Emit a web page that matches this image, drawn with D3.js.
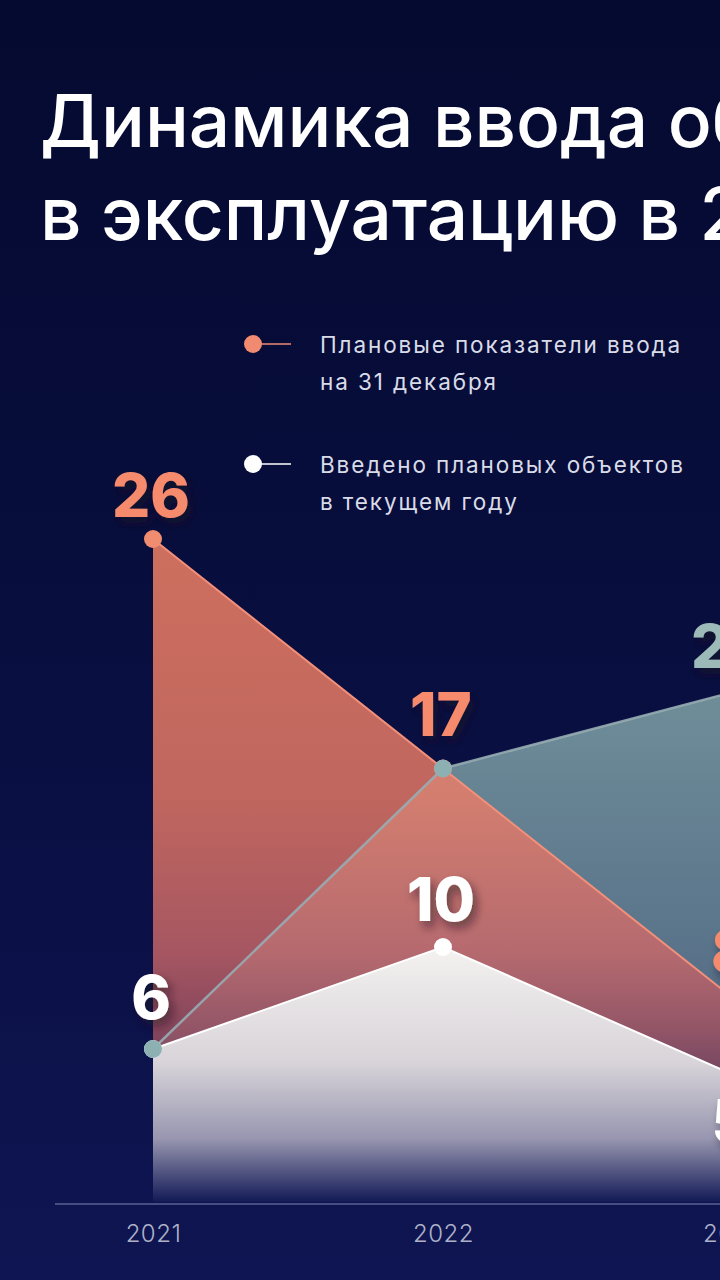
<!DOCTYPE html>
<html>
  <head>
    <title>Динамика ввода объектов</title>
    <meta charset="utf-8">
    <script src='https://d3js.org/d3.v7.min.js'></script>
    <style>
      body { margin: 0; background: #070c38; overflow: hidden; }
      svg { display: block; }
    </style>
  </head>
  <body>
    <script>

    // данные
    var years = [2021, 2022, 2023];
    var plan = [26, 17, 8];        // плановые показатели ввода на 31 декабря
    var total = [6, 17, 20];       // третий ряд (серо-голубой)
    var done = [6, 10, 5];         // введено плановых объектов в текущем году

    var titleLines = ['Динамика ввода объектов', 'в эксплуатацию в 2021–2023 гг.'];
    var legendLabels = [
      ['Плановые показатели ввода', 'на 31 декабря'],
      ['Введено плановых объектов', 'в текущем году']
    ];

    var width = 720;
    var height = 1280;

    var svg = d3.select('body')
      .append('svg')
      .attr('width', width)
      .attr('height', height);

    var defs = svg.append('defs');

    function vGrad(id, y1, y2, stops) {
      var g = defs.append('linearGradient')
        .attr('id', id)
        .attr('gradientUnits', 'userSpaceOnUse')
        .attr('x1', 0).attr('x2', 0)
        .attr('y1', y1).attr('y2', y2);
      stops.forEach(function(s) {
        g.append('stop').attr('offset', s[0]).attr('stop-color', s[1]);
      });
    }

    vGrad('bg', 0, height, [[0, '#050a30'], [0.5, '#080e3e'], [1, '#0f1552']]);
    vGrad('g-total', 690, 1202, [[0, '#6f8e99'], [0.55, '#587189'], [1, '#17205a']]);
    vGrad('g-plan', 539, 1202, [[0, '#ff8867'], [0.39, '#ee7c66'], [0.62, '#cd6868'], [0.74, '#a55361'], [1, '#1a1a50']]);
    vGrad('g-done', 948, 1202, [[0, '#f4f1f0'], [0.45, '#d8d4d9'], [0.75, '#9896b0'], [1, '#121a56']]);

    var shadow = defs.append('filter').attr('id', 'shadow')
      .attr('x', '-30%').attr('y', '-30%').attr('width', '160%').attr('height', '160%');
    shadow.append('feDropShadow')
      .attr('dx', 4).attr('dy', 6).attr('stdDeviation', 5)
      .attr('flood-color', '#1a0a20').attr('flood-opacity', 0.55);

    svg.append('rect')
      .attr('width', width).attr('height', height)
      .attr('fill', 'url(#bg)');

    // заголовок
    svg.append('text')
      .style('font-family', 'Inter, sans-serif')
      .style('font-weight', 500)
      .style('font-size', '73px')
      .style('fill', '#ffffff')
      .selectAll('tspan')
      .data(titleLines)
      .enter().append('tspan')
      .attr('x', 40)
      .attr('y', function(d, i) { return 147 + i * 93; })
      .text(function(d) { return d; });

    // легенда
    var legendColors = ['#f08a70', '#ffffff'];
    var legend = svg.selectAll('.legend')
      .data(legendLabels)
      .enter().append('g')
      .attr('class', 'legend')
      .attr('transform', function(d, i) { return 'translate(253,' + (344 + i * 120) + ')'; });

    legend.append('line')
      .attr('x1', 0).attr('x2', 38)
      .attr('stroke', function(d, i) { return legendColors[i]; })
      .attr('stroke-width', 1.5);
    legend.append('circle')
      .attr('r', 9)
      .attr('fill', function(d, i) { return legendColors[i]; });
    legend.append('text')
      .style('font-family', 'Inter, sans-serif')
      .style('font-size', '22.5px')
      .style('letter-spacing', '1.9px')
      .style('fill', '#d9dce8')
      .selectAll('tspan')
      .data(function(d) { return d; })
      .enter().append('tspan')
      .attr('x', 67)
      .attr('y', function(d, i) { return 9 + i * 37; })
      .text(function(d) { return d; });

    // шкалы
    var x = d3.scaleLinear().domain([2021, 2023]).range([153, 733]);
    var y = d3.scaleLinear().domain([0, 26]).range([1202, 539]);

    function rows(vals) {
      return years.map(function(yr, i) { return {year: yr, value: vals[i]}; });
    }

    var area = d3.area()
      .x(function(d) { return x(d.year); })
      .y0(y(0))
      .y1(function(d) { return y(d.value); });
    var line = d3.line()
      .x(function(d) { return x(d.year); })
      .y(function(d) { return y(d.value); });

    svg.append('path').datum(rows(total)).attr('d', area).attr('fill', 'url(#g-total)');
    svg.append('path').datum(rows(plan)).attr('d', area).attr('fill', 'url(#g-plan)').attr('fill-opacity', 0.8);
    svg.append('path').datum(rows(done)).attr('d', area).attr('fill', 'url(#g-done)');

    svg.append('path').datum(rows(total)).attr('d', line)
      .attr('fill', 'none').attr('stroke', '#97acb2').attr('stroke-width', 2.5).attr('stroke-opacity', 0.9);
    svg.append('path').datum(rows(plan)).attr('d', line)
      .attr('fill', 'none').attr('stroke', '#f3907a').attr('stroke-width', 2);
    svg.append('path').datum(rows(done)).attr('d', line)
      .attr('fill', 'none').attr('stroke', '#ffffff').attr('stroke-width', 2);

    // ось X
    svg.append('line')
      .attr('x1', 55).attr('x2', width)
      .attr('y1', 1204).attr('y2', 1204)
      .attr('stroke', '#7e86b4').attr('stroke-width', 1);

    var xAxis = svg.append('g')
      .attr('transform', 'translate(0,1204)')
      .call(d3.axisBottom(x).tickValues(years).tickFormat(d3.format('d')).tickSize(0).tickPadding(21));
    xAxis.select('.domain').remove();
    xAxis.selectAll('text')
      .attr('dy', '0.71em')
      .style('font-family', 'Inter, sans-serif')
      .style('font-weight', 300)
      .style('font-size', '24px')
      .style('letter-spacing', '0.5px')
      .style('fill', '#aeb2c8');

    // точки
    var series = [
      {vals: plan, color: '#f08c70'},
      {vals: done, color: '#ffffff'},
      {vals: total, color: '#8db0b3'}
    ];
    series.forEach(function(s) {
      svg.selectAll(null)
        .data(rows(s.vals))
        .enter().append('circle')
        .attr('cx', function(d) { return x(d.year); })
        .attr('cy', function(d) { return y(d.value); })
        .attr('r', 9)
        .attr('fill', s.color);
    });

    // подписи значений
    var labels = [
      {year: 2021, value: plan[0], color: '#f58a6c', dy: -22},
      {year: 2022, value: plan[1], color: '#f58a6c', dy: -33},
      {year: 2023, value: plan[2], color: '#f58a6c', dy: -25},
      {year: 2021, value: done[0], color: '#ffffff', dy: -30},
      {year: 2022, value: done[1], color: '#ffffff', dy: -26},
      {year: 2023, value: done[2], color: '#ffffff', dy: 68},
      {year: 2023, value: total[2], color: '#9cbab8', dy: -24}
    ];
    svg.selectAll('.val')
      .data(labels)
      .enter().append('text')
      .attr('class', 'val')
      .attr('x', function(d) { return x(d.year) - 2; })
      .attr('y', function(d) { return y(d.value) + d.dy; })
      .attr('text-anchor', 'middle')
      .attr('filter', 'url(#shadow)')
      .style('font-family', 'Inter, sans-serif')
      .style('font-weight', 800)
      .style('font-size', '60px')
      .style('fill', function(d) { return d.color; })
      .text(function(d) { return d.value; });

    </script>
  </body>
</html>
